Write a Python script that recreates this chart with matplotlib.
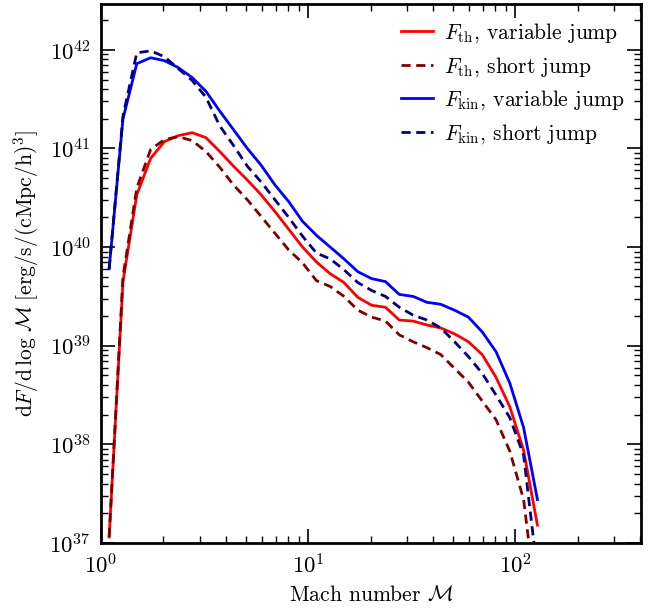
import matplotlib
matplotlib.use("Agg")
import matplotlib.pyplot as plt
import numpy as np

plt.rcParams['font.family'] = 'serif'
plt.rcParams['font.serif'] = ['cmr10', 'DejaVu Serif']
plt.rcParams['mathtext.fontset'] = 'cm'
plt.rcParams['axes.formatter.use_mathtext'] = True
plt.rcParams['axes.unicode_minus'] = False

# Mach number bin centres
mach = [1.096, 1.278, 1.490, 1.738, 2.026, 2.362, 2.754, 3.211, 3.744, 4.365,
        5.089, 5.934, 6.918, 8.066, 9.404, 10.96, 12.78, 14.90, 17.38, 20.26,
        23.62, 27.54, 32.11, 37.44, 43.65, 50.89, 59.34, 69.18, 80.66, 94.04,
        109.6, 127.8]

# log10 of dF/dlogM
log_th_var = [37.06, 39.65, 40.53, 40.90, 41.07, 41.13, 41.16, 41.11, 40.97, 40.82,
              40.68, 40.53, 40.36, 40.18, 40.00, 39.85, 39.73, 39.64, 39.49, 39.41,
              39.39, 39.26, 39.25, 39.21, 39.18, 39.12, 39.04, 38.91, 38.68, 38.38,
              37.94, 37.18]
log_th_short = [37.06, 39.70, 40.60, 40.99, 41.09, 41.12, 41.08, 40.97, 40.81, 40.63,
                40.48, 40.31, 40.14, 39.97, 39.84, 39.66, 39.60, 39.50, 39.36, 39.29,
                39.25, 39.11, 39.04, 38.98, 38.91, 38.77, 38.63, 38.44, 38.25, 37.93,
                37.44, 36.30]
log_kin_var = [39.78, 41.30, 41.86, 41.92, 41.89, 41.82, 41.72, 41.58, 41.38, 41.19,
               41.00, 40.83, 40.63, 40.46, 40.26, 40.12, 40.00, 39.88, 39.75, 39.68,
               39.65, 39.52, 39.50, 39.44, 39.42, 39.36, 39.29, 39.14, 38.94, 38.62,
               38.17, 37.44]
log_kin_short = [39.78, 41.33, 41.97, 41.99, 41.93, 41.81, 41.69, 41.52, 41.23, 41.03,
                 40.82, 40.66, 40.48, 40.30, 40.11, 39.94, 39.88, 39.77, 39.64, 39.56,
                 39.50, 39.39, 39.31, 39.26, 39.18, 39.04, 38.89, 38.72, 38.50, 38.27,
                 37.89, 36.70]

fig = plt.figure(figsize=(6.51, 6.08), dpi=100)
ax = fig.add_axes([0.155, 0.107, 0.83, 0.886])

ax.plot(mach, 10 ** np.array(log_th_var), color='#ff0000', lw=2,
        label=r'$F_\mathrm{th}$, variable jump')
ax.plot(mach, 10 ** np.array(log_th_short), color='#800000', lw=2, ls='--',
        dashes=(3.3, 2), label=r'$F_\mathrm{th}$, short jump')
ax.plot(mach, 10 ** np.array(log_kin_var), color='#0000ff', lw=2,
        label=r'$F_\mathrm{kin}$, variable jump')
ax.plot(mach, 10 ** np.array(log_kin_short), color='#000080', lw=2, ls='--',
        dashes=(3.3, 2), label=r'$F_\mathrm{kin}$, short jump')

ax.set_xscale('log')
ax.set_yscale('log')
ax.set_xlim(1, 405)
ax.set_ylim(1e37, 2.9e42)

ax.set_xlabel(r'Mach number $\mathcal{M}$', fontsize=15.5, labelpad=6)
ax.set_ylabel(r'$\mathrm{d}F/\mathrm{d}\,\log\,\mathcal{M}\;[\mathrm{erg/s/(cMpc/h)^3}]$',
              fontsize=15.5, labelpad=6)

for s in ax.spines.values():
    s.set_linewidth(2)
ax.tick_params(which='both', direction='in', top=True, right=True, labelsize=16.5)
ax.tick_params(which='major', length=10, width=1.2, pad=7)
ax.tick_params(which='minor', length=5, width=1)

ax.legend(loc='upper right', frameon=False, fontsize=15.5, handlelength=1.5,
          handletextpad=0.5, borderaxespad=0.4, labelspacing=0.45)

fig.savefig('out.png', dpi=100)
